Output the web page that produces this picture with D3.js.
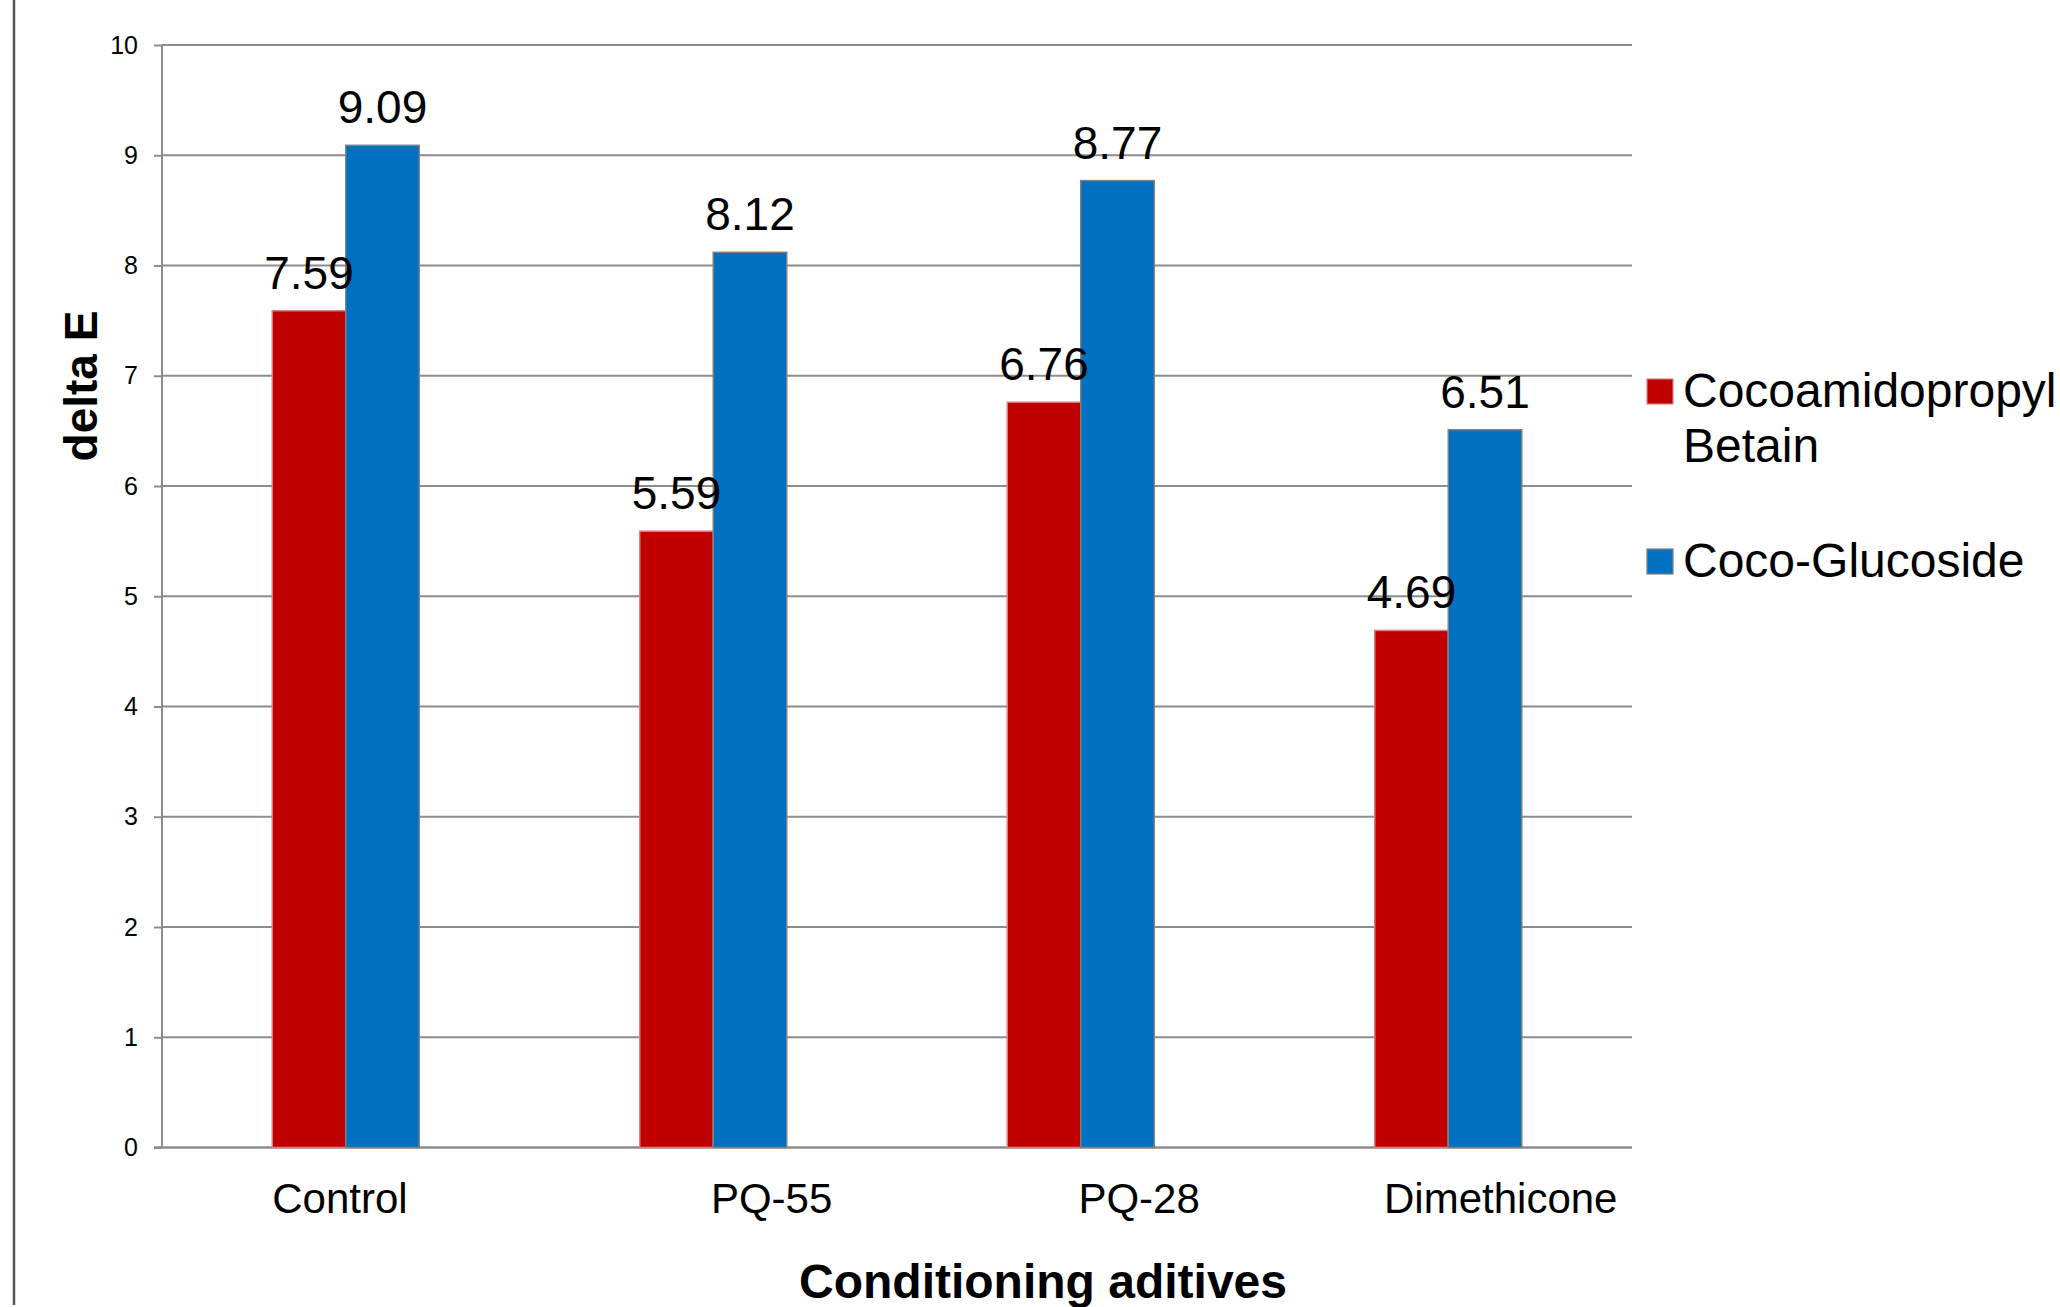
<!DOCTYPE html>
<html>
<head>
<meta charset="utf-8">
<script src="https://cdn.jsdelivr.net/npm/d3@7"></script>
<style>
  html, body { margin: 0; padding: 0; background: #fff; }
  svg { display: block; font-family: "Liberation Sans", Arial, sans-serif; }
  .cat { white-space: pre; }
</style>
</head>
<body>
<svg id="chart" width="2060" height="1307"></svg>
<script>
// ---- data ----
const categories = ["Control", "PQ-55", "PQ-28", "Dimethicone"];
// category labels as displayed (original labels carry padding spaces)
const categoryLabels = ["Control ", "          PQ-55", "          PQ-28", "         Dimethicone"];
const seriesNames = ["Cocoamidopropyl Betain", "Coco-Glucoside"];
const betainValues = [7.59, 5.59, 6.76, 4.69];
const glucosideValues = [9.09, 8.12, 8.77, 6.51];
const yTicks = [0, 1, 2, 3, 4, 5, 6, 7, 8, 9, 10];
const seriesColors = ["#C00000", "#0070C0"];
const legendLines = [["Cocoamidopropyl", "Betain"], ["Coco-Glucoside"]];

// ---- layout ----
const svg = d3.select("#chart");
const plot = { left: 162, right: 1632, top: 45, bottom: 1147.5 };

const x0 = d3.scaleBand().domain(categories).range([plot.left, plot.right]).paddingInner(0).paddingOuter(0);
const bw = x0.bandwidth();
const x1 = d3.scaleBand().domain(seriesNames).range([bw * 0.3, bw * 0.7]).padding(0);
const y = d3.scaleLinear().domain([0, 10]).range([plot.bottom, plot.top]);

const rows = categories.map((c, i) => ({
  cat: c,
  vals: [
    { s: seriesNames[0], v: betainValues[i], color: seriesColors[0] },
    { s: seriesNames[1], v: glucosideValues[i], color: seriesColors[1] }
  ]
}));

// outer left border
svg.append("line").attr("x1", 14).attr("x2", 14).attr("y1", 0).attr("y2", 1305)
  .attr("stroke", "#555").attr("stroke-width", 2.5);

// gridlines
svg.append("g").selectAll("line").data(yTicks.filter(t => t > 0)).join("line")
  .attr("x1", plot.left).attr("x2", plot.right)
  .attr("y1", d => y(d)).attr("y2", d => y(d))
  .attr("stroke", "#8c8c8c").attr("stroke-width", 2);

// y axis
const yAxis = d3.axisLeft(y).tickValues(yTicks).tickSize(8).tickPadding(16).tickFormat(d3.format("d"));
const gy = svg.append("g").attr("transform", `translate(${plot.left},0)`).call(yAxis);
gy.select(".domain").attr("stroke", "#8c8c8c").attr("stroke-width", 2).attr("d", `M0,${plot.top}V${plot.bottom}`);
gy.selectAll(".tick line").attr("stroke", "#8c8c8c").attr("stroke-width", 2);
gy.selectAll(".tick text").attr("font-size", 25).attr("fill", "#000")
  .attr("font-family", "'Liberation Sans', Arial, sans-serif");

// x axis
const xAxis = d3.axisBottom(x0).tickSize(0).tickPadding(0).tickFormat((d, i) => categoryLabels[i]);
const gx = svg.append("g").attr("transform", `translate(0,${plot.bottom})`).call(xAxis);
gx.select(".domain").attr("stroke", "#8c8c8c").attr("stroke-width", 2.5).attr("d", `M${plot.left - 8},0H${plot.right}`);
gx.selectAll(".tick text").attr("class", "cat").attr("font-size", 42).attr("fill", "#000")
  .attr("font-family", "'Liberation Sans', Arial, sans-serif")
  .attr("dy", null).attr("y", 65.5);

// bars
const groups = svg.append("g").selectAll("g").data(rows).join("g")
  .attr("transform", d => `translate(${x0(d.cat)},0)`);
groups.selectAll("rect").data(d => d.vals).join("rect")
  .attr("x", d => x1(d.s))
  .attr("width", x1.bandwidth())
  .attr("y", d => y(d.v))
  .attr("height", d => y(0) - y(d.v))
  .attr("fill", d => d.color)
  .attr("stroke", d => d.s === seriesNames[1] ? "#7f7f7f" : "#d88080")
  .attr("stroke-width", 1.5);

// value labels
groups.selectAll("text.val").data(d => d.vals).join("text")
  .attr("class", "val")
  .attr("x", d => x1(d.s) + x1.bandwidth() / 2)
  .attr("y", d => y(d.v) - 22)
  .attr("text-anchor", "middle")
  .attr("font-size", 46)
  .attr("fill", "#000")
  .text(d => d.v.toFixed(2));

// axis titles
svg.append("text")
  .attr("transform", "translate(97,386) rotate(-90)")
  .attr("text-anchor", "middle")
  .attr("font-size", 46).attr("font-weight", "bold").attr("fill", "#000")
  .text("delta E");

svg.append("text")
  .attr("x", 1043).attr("y", 1298)
  .attr("text-anchor", "middle")
  .attr("font-size", 48).attr("font-weight", "bold").attr("fill", "#000")
  .text("Conditioning aditives");

// legend
const legendY = [379, 549];
const leg = svg.append("g").selectAll("g").data(seriesNames).join("g")
  .attr("transform", (d, i) => `translate(1647,${legendY[i]})`);
leg.append("rect").attr("width", 26).attr("height", 25)
  .attr("fill", (d, i) => seriesColors[i])
  .attr("stroke", (d, i) => i === 1 ? "#7f7f7f" : "#d88080").attr("stroke-width", 1.2);
leg.append("text")
  .attr("x", 36).attr("y", 28)
  .attr("font-size", 48).attr("fill", "#000")
  .selectAll("tspan").data((d, i) => legendLines[i]).join("tspan")
  .attr("x", 36).attr("dy", (d, j) => j === 0 ? 0 : 55)
  .text(d => d);
</script>
</body>
</html>
